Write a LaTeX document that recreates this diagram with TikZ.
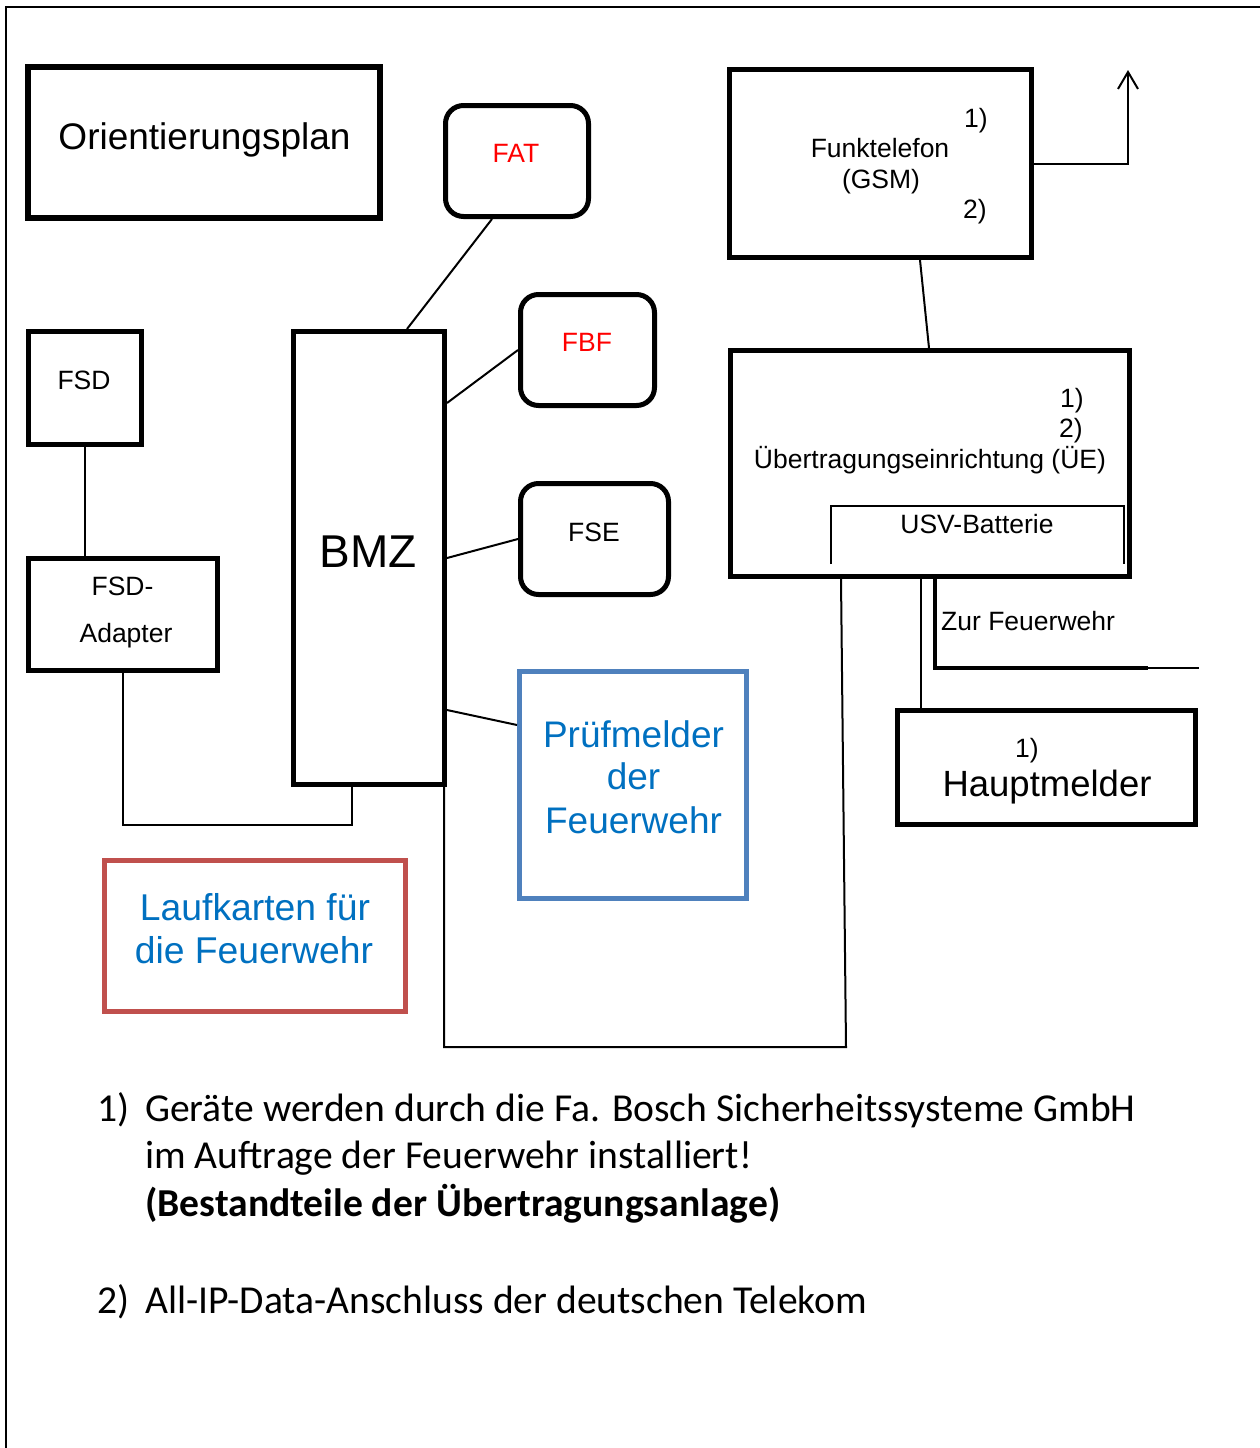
\documentclass[tikz,border=0pt]{standalone}
\usepackage{fontspec}
\setmainfont{Liberation Sans}
\newfontfamily\fussfont{Carlito}
\usetikzlibrary{arrows.meta}
\definecolor{pruefblau}{RGB}{0,112,192}
\definecolor{pruefrahmen}{RGB}{79,129,189}
\definecolor{laufrahmen}{RGB}{192,80,77}
\tikzset{
	kasten/.style={
		draw,
		line width=5pt,
		inner sep=0pt
	},
	rundkasten/.style={
		kasten,
		rounded corners=18pt
	},
	leitung/.style={
		line width=2pt
	},
	schrift/.style={
		anchor=base,
		inner sep=0pt,
		font=\fontsize{26.5}{32}\selectfont
	},
	grossschrift/.style={
		anchor=base,
		inner sep=0pt,
		font=\fontsize{37}{43}\selectfont
	},
	fussschrift/.style={
		anchor=base west,
		inner sep=0pt,
		font=\fussfont\fontsize{39.6}{47.5}\selectfont
	}
}
\begin{document}
\begin{tikzpicture}[x=1pt,y=-1pt]
	\useasboundingbox (0,0) rectangle (1260,1448);
	% Rahmen
	\draw[
		line width=2.5pt
	] (6,1448) -- (6,7) -- (1260,7);
	% Orientierungsplan
	\node[
		kasten,
		line width=5.5pt,
		minimum width=352pt,
		minimum height=151pt
	] (orient) at (204,142.5) {};
	\node[grossschrift] (orient-text) at (204.5,149) {Orientierungsplan};
	% FAT, FBF, FSE
	\node[
		rundkasten,
		minimum width=143pt,
		minimum height=111pt
	] (fat) at (517,161) {};
	\node[schrift, text=red] (fat-text) at (516,162) {FAT};
	\node[
		rundkasten,
		minimum width=134pt,
		minimum height=111pt
	] (fbf) at (587.5,350) {};
	\node[schrift, text=red] (fbf-text) at (587,351) {FBF};
	\node[
		rundkasten,
		minimum width=148pt,
		minimum height=111pt
	] (fse) at (594.5,539) {};
	\node[schrift] (fse-text) at (594,541) {FSE};
	% BMZ
	\node[
		kasten,
		minimum width=151pt,
		minimum height=453pt
	] (bmz) at (369,558) {};
	\node[schrift, font=\fontsize{46}{50}\selectfont] (bmz-text) at (368,567) {BMZ};
	% FSD und Adapter
	\node[
		kasten,
		minimum width=113pt,
		minimum height=113pt
	] (fsd) at (85,388) {};
	\node[schrift] (fsd-text) at (84,389) {FSD};
	\node[
		kasten,
		minimum width=189pt,
		minimum height=112pt
	] (adapter) at (123,614.5) {};
	\node[schrift] (adapter-text1) at (122.5,595) {FSD-};
	\node[schrift] (adapter-text2) at (126,642) {Adapter};
	% Funktelefon
	\node[
		kasten,
		minimum width=302pt,
		minimum height=188pt
	] (funk) at (880.5,163.5) {};
	\node[schrift] (funk-text1) at (880,157) {Funktelefon};
	\node[schrift] (funk-text2) at (881,188) {(GSM)};
	\node[schrift] (funk-fn1) at (976,127) {1)};
	\node[schrift] (funk-fn2) at (975,218) {2)};
	% Uebertragungseinrichtung
	\node[
		kasten,
		minimum width=399pt,
		minimum height=226pt
	] (ue) at (930,463.5) {};
	\node[schrift] (ue-fn1) at (1072,407) {1)};
	\node[schrift] (ue-fn2) at (1071,437) {2)};
	\node[schrift] (ue-text) at (930,468) {Übertragungseinrichtung (ÜE)};
	% USV-Batterie
	\draw[
		leitung
	] (831,564) -- (831,506) -- (1124,506) -- (1124,564);
	\node[schrift] (usv-text) at (977,533) {USV-Batterie};
	% Hauptmelder
	\node[
		kasten,
		minimum width=298pt,
		minimum height=114pt
	] (haupt) at (1046.5,767.5) {};
	\node[schrift] (haupt-fn) at (1027,757) {1)};
	\node[schrift, font=\fontsize{36.5}{40}\selectfont] (haupt-text) at (1047,796) {Hauptmelder};
	% Pruefmelder
	\node[
		kasten,
		draw=pruefrahmen,
		minimum width=227pt,
		minimum height=227pt
	] (pruef) at (633,785) {};
	\node[grossschrift, text=pruefblau] (pruef-text1) at (633.5,747) {Prüfmelder};
	\node[grossschrift, text=pruefblau] (pruef-text2) at (633.5,789) {der};
	\node[grossschrift, text=pruefblau] (pruef-text3) at (633.5,833) {Feuerwehr};
	% Laufkarten
	\node[
		kasten,
		draw=laufrahmen,
		minimum width=301pt,
		minimum height=151pt
	] (lauf) at (255,936) {};
	\node[grossschrift, text=pruefblau, font=\fontsize{37.3}{43}\selectfont] (lauf-text1) at (255,920) {Laufkarten für};
	\node[grossschrift, text=pruefblau, font=\fontsize{37.3}{43}\selectfont] (lauf-text2) at (254,963) {die Feuerwehr};
	% Verbindungen BMZ
	\draw[leitung] ([xshift=-25pt]fat.south) -- ([xshift=38pt]bmz.north);
	\draw[leitung] (fbf.west) -- ([yshift=155pt]bmz.east);
	\draw[leitung] (fse.west) -- (bmz.east);
	\draw[leitung] ([yshift=60pt]pruef.west) -- ([yshift=-152pt]bmz.east);
	\draw[leitung] (fsd.south) -- (fsd.south |- adapter.north);
	\draw[leitung] (adapter.south) |- ([xshift=-17pt,yshift=-38pt]bmz.south)
		-- ([xshift=-17pt]bmz.south);
	\coordinate (unten-links) at (444,1047);
	\coordinate (unten-rechts) at (846,1047);
	\draw[leitung] ([xshift=-3pt]bmz.south east) -- (unten-links) -- (unten-rechts)
		-- ([xshift=-89pt]ue.south);
	% Verbindungen UE
	\coordinate (antenne) at (1128,70);
	\draw[leitung] ([xshift=39.5pt]funk.south) -- ([xshift=-1pt]ue.north);
	\draw[
		leitung,
		-{Straight Barb[length=17pt,width=20pt,line width=2pt]}
	] (funk.east) -| (antenne);
	\draw[leitung] ([xshift=-9pt]ue.south) -- ([xshift=-9pt]ue.south |- haupt.north);
	% Zur Feuerwehr
	\coordinate (fw-knick) at (1148,668);
	\coordinate (fw) at (1199,668);
	\draw[
		line width=3.3pt
	] ([xshift=5pt]ue.south) |- (fw-knick);
	\draw[
		line width=1.3pt
	] (fw-knick) -- (fw);
	\node[schrift, anchor=base west] (fw-text) at (941,630) {Zur Feuerwehr};
	% Fussnoten
	\node[fussschrift] (fn1) at (97,1121) {1)};
	\node[fussschrift] (fn1-text1) at (145,1121) {Geräte werden durch die Fa. Bosch Sicherheitssysteme GmbH};
	\node[fussschrift] (fn1-text2) at (145,1168.5) {im Auftrage der Feuerwehr installiert!};
	\node[fussschrift, font=\fussfont\bfseries\fontsize{39.6}{47.5}\selectfont] (fn1-text3) at (145,1216) {(Bestandteile der Übertragungsanlage)};
	\node[fussschrift] (fn2) at (97,1313) {2)};
	\node[fussschrift] (fn2-text) at (145,1313) {All-IP-Data-Anschluss der deutschen Telekom};
\end{tikzpicture}
\end{document}
